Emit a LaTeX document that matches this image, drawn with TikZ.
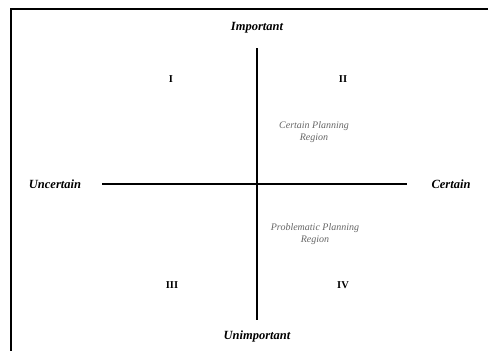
\documentclass[tikz,border=0pt]{standalone}
\usepackage{fontspec}
\setmainfont{Liberation Serif}
\usepackage{tikz}

\begin{document}
\begin{tikzpicture}[x=1pt,y=-1pt,
    axislabel/.style ={font=\bfseries\itshape\fontsize{12.5}{14}\selectfont},
    quadrant/.style ={font=\bfseries\fontsize{10.5}{12}\selectfont},
    region/.style ={font=\itshape\fontsize{10}{12}\selectfont, text=black!60, align=center},
    axis/.style ={line width=1.6pt}]
   \useasboundingbox (0,0) rectangle (488,351);
   % frame, only top and left edges show
   \draw[line width=1.6pt] (11,351) -- (11,9) -- (488,9);
   \coordinate (top) at (257,48);
   \coordinate (bottom) at (257,320);
   \coordinate (left) at (102,184);
   \coordinate (right) at (407,184);
   \draw[axis] (top) -- (bottom);
   \draw[axis] (left) -- (right);
   \node[axislabel] (imp) at (257,28) {Important};
   \node[axislabel] (unimp) at (257,336) {Unimportant};
   \node[axislabel] (unc) at (55,184) {Uncertain};
   \node[axislabel] (cert) at (451,184) {Certain};
   \node[quadrant] (q1) at (171,79) {I};
   \node[quadrant] (q2) at (343,79) {II};
   \node[quadrant] (q3) at (172,285) {III};
   \node[quadrant] (q4) at (343,285) {IV};
   \node[region] (certreg) at (314,132) {Certain Planning\\Region};
   \node[region] (probreg) at (315,234) {Problematic Planning\\Region};
 \end{tikzpicture}
\end{document}
